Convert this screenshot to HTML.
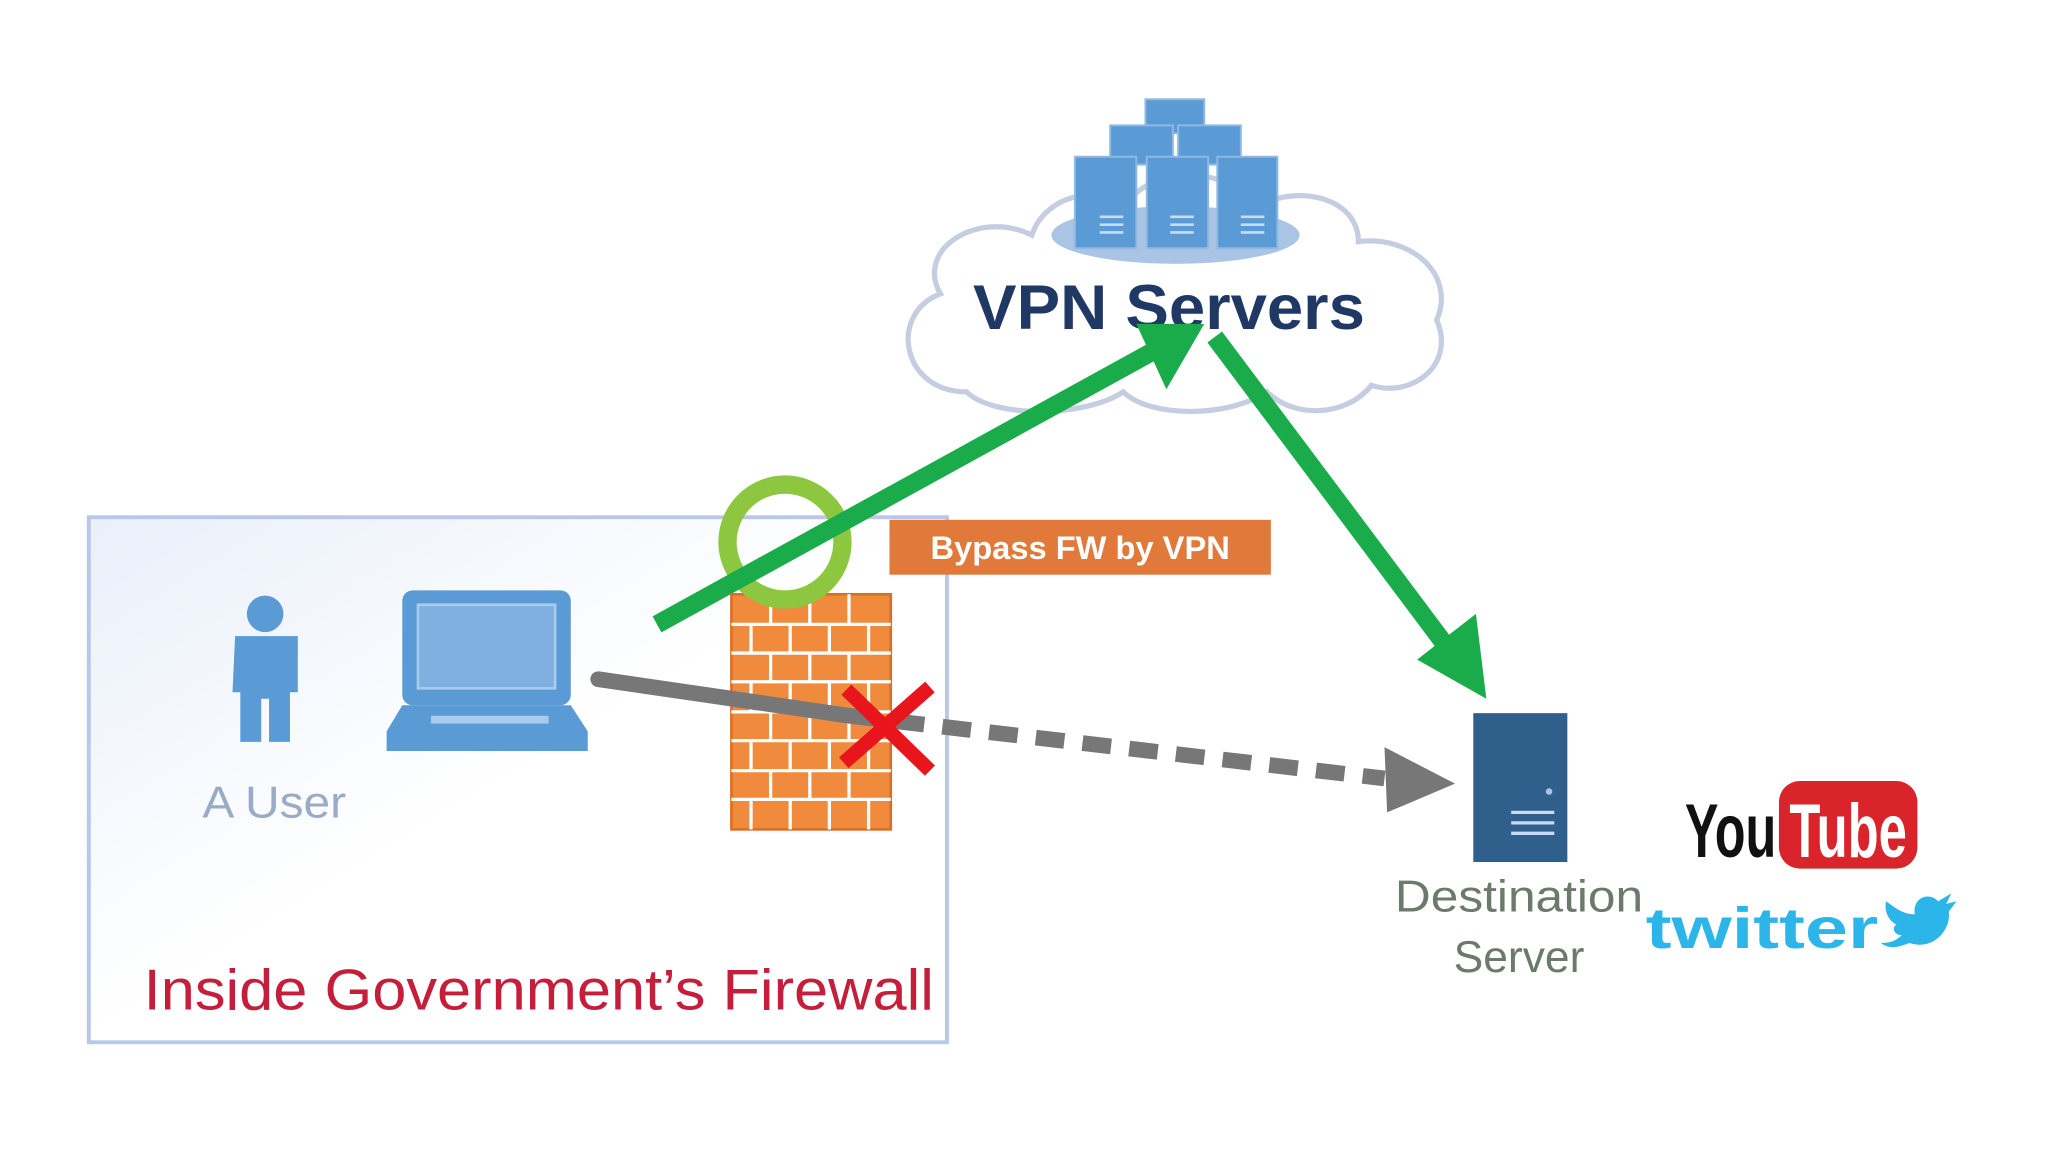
<!DOCTYPE html>
<html><head><meta charset="utf-8"><style>
html,body{margin:0;padding:0;background:#fff;}
svg{display:block;}
</style></head><body>
<svg width="2048" height="1152" viewBox="0 0 1568 882" preserveAspectRatio="none" xmlns="http://www.w3.org/2000/svg">
<defs>
<linearGradient id="bg" x1="0" y1="0" x2="1" y2="1">
<stop offset="0" stop-color="#e9f0fa"/><stop offset="0.5" stop-color="#ffffff"/><stop offset="1" stop-color="#ffffff"/>
</linearGradient>
</defs>
<rect width="1568" height="882" fill="#fff"/>
<rect x="68" y="396" width="657" height="402" fill="url(#bg)" stroke="#b9c8e8" stroke-width="3"/>
<text x="110" y="773" font-family="Liberation Sans, sans-serif" font-size="44" fill="#c41e3a" textLength="605" lengthAdjust="spacingAndGlyphs">Inside Government’s Firewall</text>
<circle cx="203" cy="470" r="14" fill="#5b9bd5"/>
<path d="M180 487 H228 V530 H222 V568 H206 V535 H200 V568 H184 V530 H178 Z" fill="#5b9bd5"/>
<text x="155" y="626" font-family="Liberation Sans, sans-serif" font-size="34" fill="#9aabc8" textLength="110" lengthAdjust="spacingAndGlyphs">A User</text>
<rect x="308" y="452" width="129" height="88" rx="8" fill="#5b9bd5"/>
<rect x="320" y="463" width="105" height="64" fill="#7fb0e0" stroke="#a9cbed" stroke-width="2"/>
<path d="M308 540 H437 L450 560 V575 H296 V560 Z" fill="#5b9bd5"/>
<rect x="330" y="548" width="90" height="6" fill="#a9cbed"/>
<rect x="560" y="455" width="122" height="180" fill="#f08a3c" stroke="#d96e25" stroke-width="2"/>
<g stroke="#fff" stroke-width="2.5">
<line x1="560" y1="478" x2="682" y2="478"/><line x1="560" y1="500" x2="682" y2="500"/>
<line x1="560" y1="522" x2="682" y2="522"/><line x1="560" y1="545" x2="682" y2="545"/>
<line x1="560" y1="567" x2="682" y2="567"/><line x1="560" y1="590" x2="682" y2="590"/>
<line x1="560" y1="612" x2="682" y2="612"/>
<line x1="590" y1="455" x2="590" y2="478"/><line x1="620" y1="455" x2="620" y2="478"/><line x1="650" y1="455" x2="650" y2="478"/>
<line x1="575" y1="478" x2="575" y2="500"/><line x1="605" y1="478" x2="605" y2="500"/><line x1="635" y1="478" x2="635" y2="500"/><line x1="665" y1="478" x2="665" y2="500"/>
<line x1="590" y1="500" x2="590" y2="522"/><line x1="620" y1="500" x2="620" y2="522"/><line x1="650" y1="500" x2="650" y2="522"/>
<line x1="575" y1="522" x2="575" y2="545"/><line x1="605" y1="522" x2="605" y2="545"/><line x1="635" y1="522" x2="635" y2="545"/><line x1="665" y1="522" x2="665" y2="545"/>
<line x1="590" y1="545" x2="590" y2="567"/><line x1="620" y1="545" x2="620" y2="567"/><line x1="650" y1="545" x2="650" y2="567"/>
<line x1="575" y1="567" x2="575" y2="590"/><line x1="605" y1="567" x2="605" y2="590"/><line x1="635" y1="567" x2="635" y2="590"/><line x1="665" y1="567" x2="665" y2="590"/>
<line x1="590" y1="590" x2="590" y2="612"/><line x1="620" y1="590" x2="620" y2="612"/><line x1="650" y1="590" x2="650" y2="612"/>
<line x1="575" y1="612" x2="575" y2="635"/><line x1="605" y1="612" x2="605" y2="635"/><line x1="635" y1="612" x2="635" y2="635"/><line x1="665" y1="612" x2="665" y2="635"/>
</g>
<path d="M740 300 C690 300 680 240 720 225 C700 190 750 160 790 180 C800 150 840 140 860 160 C880 125 940 125 960 160 C990 140 1040 150 1040 185 C1080 180 1115 210 1100 245 C1115 280 1080 305 1050 295 C1030 320 990 320 970 300 C940 320 880 320 860 300 C830 320 760 320 740 300 Z" fill="#fff" stroke="#c5cde0" stroke-width="4"/>
<ellipse cx="900" cy="180" rx="95" ry="22" fill="#a9c4e4"/>
<g fill="#5b9bd5" stroke="#8fb8e2" stroke-width="1.5">
<rect x="877" y="76" width="45" height="26"/>
<rect x="850" y="96" width="48" height="30"/><rect x="902" y="96" width="48" height="30"/>
<rect x="823" y="120" width="47" height="70"/><rect x="878" y="120" width="47" height="70"/><rect x="932" y="120" width="46" height="70"/>
</g>
<g stroke="#c7dcf2" stroke-width="2">
<line x1="842" y1="166" x2="860" y2="166"/><line x1="842" y1="172" x2="860" y2="172"/><line x1="842" y1="178" x2="860" y2="178"/>
<line x1="896" y1="166" x2="914" y2="166"/><line x1="896" y1="172" x2="914" y2="172"/><line x1="896" y1="178" x2="914" y2="178"/>
<line x1="950" y1="166" x2="968" y2="166"/><line x1="950" y1="172" x2="968" y2="172"/><line x1="950" y1="178" x2="968" y2="178"/>
</g>
<text x="745" y="252" font-family="Liberation Sans, sans-serif" font-weight="bold" font-size="48" fill="#1f3864" textLength="300" lengthAdjust="spacingAndGlyphs">VPN Servers</text>
<line x1="458" y1="520" x2="650" y2="548" stroke="#777" stroke-width="12" stroke-linecap="round"/>
<line x1="650" y1="548" x2="1060" y2="596" stroke="#777" stroke-width="12" stroke-dasharray="22,14"/>
<polygon points="1060,572 1114,600 1062,622" fill="#777"/>
<g stroke="#e8161c" stroke-width="11">
<line x1="648" y1="528" x2="712" y2="590"/><line x1="712" y1="526" x2="646" y2="584"/>
</g>
<circle cx="601" cy="415" r="44" fill="none" stroke="#8dc63f" stroke-width="14"/>
<line x1="503" y1="478" x2="890" y2="265" stroke="#1aab4a" stroke-width="14"/>
<polygon points="870,248 922,248 893,298" fill="#1aab4a"/>
<line x1="930" y1="258" x2="1115" y2="505" stroke="#1aab4a" stroke-width="14"/>
<polygon points="1085,505 1138,535 1130,470" fill="#1aab4a"/>
<rect x="681" y="398" width="292" height="42" fill="#e0793a"/>
<text x="827" y="428" text-anchor="middle" font-family="Liberation Sans, sans-serif" font-weight="bold" font-size="25" fill="#fff">Bypass FW by VPN</text>
<rect x="1128" y="546" width="72" height="114" fill="#2f5f8a"/>
<circle cx="1186" cy="606" r="2.5" fill="#a9c4e4"/>
<g stroke="#c7dcf2" stroke-width="2.5">
<line x1="1157" y1="622" x2="1190" y2="622"/><line x1="1157" y1="630" x2="1190" y2="630"/><line x1="1157" y1="638" x2="1190" y2="638"/>
</g>
<text x="1163" y="698" text-anchor="middle" font-family="Liberation Sans, sans-serif" font-size="34" fill="#6b7a6a" textLength="190" lengthAdjust="spacingAndGlyphs">Destination</text>
<text x="1163" y="744" text-anchor="middle" font-family="Liberation Sans, sans-serif" font-size="34" fill="#6b7a6a">Server</text>
<text x="1290" y="656" font-family="Liberation Sans Narrow, Liberation Sans, sans-serif" font-weight="bold" font-size="58" fill="#111" textLength="70" lengthAdjust="spacingAndGlyphs">You</text>
<rect x="1362" y="598" width="106" height="67" rx="16" fill="#d8242a"/>
<text x="1370" y="656" font-family="Liberation Sans Narrow, Liberation Sans, sans-serif" font-weight="bold" font-size="58" fill="#fff" textLength="90" lengthAdjust="spacingAndGlyphs">Tube</text>
<text x="1260" y="726" font-family="Liberation Sans, sans-serif" font-weight="bold" font-size="44" fill="#2bb5e8" textLength="178" lengthAdjust="spacingAndGlyphs">twitter</text>
<path d="M1462 722 C1480 728 1494 712 1492 698 L1498 690 L1490 692 L1494 684 L1484 690 C1476 682 1464 688 1466 700 C1456 700 1450 694 1444 690 C1442 700 1448 706 1452 708 C1448 710 1450 716 1456 716 C1452 720 1448 722 1440 722 C1448 728 1456 724 1462 722 Z" fill="#2bb5e8"/>
</svg>
</body></html>
